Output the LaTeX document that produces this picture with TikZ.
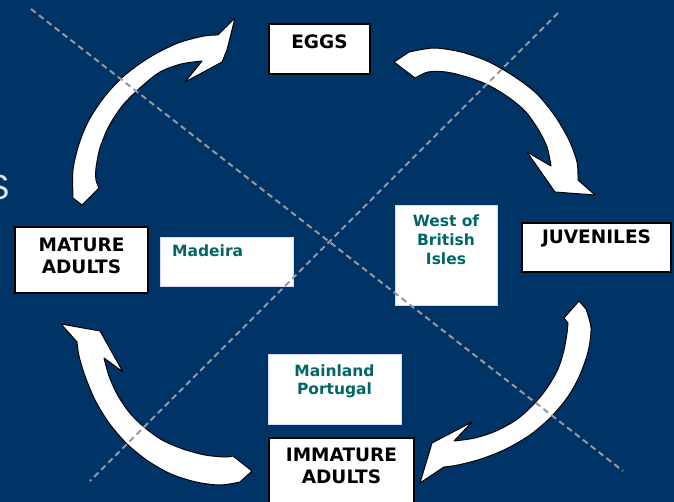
\documentclass[tikz,border=0pt]{standalone}
\usepackage{fontspec}
\setmainfont{DejaVu Sans}
\newfontfamily\slidefont{Liberation Sans}
\definecolor{navy}{RGB}{0,51,102}
\definecolor{tealtext}{RGB}{0,102,102}
\definecolor{dashgray}{RGB}{152,152,152}
\definecolor{slidegray}{RGB}{222,228,238}

\begin{document}
\begin{tikzpicture}[x=1pt,y=-1pt,
  stagebox/.style={draw=black,line width=2pt,fill=white,inner sep=0pt},
  stagetext/.style={font=\bfseries\fontsize{18.5}{22}\selectfont,align=center,text=black,inner sep=0pt},
  placebox/.style={fill=white,draw=white!85!blue,line width=0.5pt,inner sep=0pt},
  placetext/.style={font=\bfseries\fontsize{15.5}{19}\selectfont,align=center,text=tealtext,inner sep=0pt},
  cyclearrow/.style={fill=white,draw=black,line width=1pt,line join=round},
  divider/.style={draw=dashgray,line width=2pt,dash pattern=on 6pt off 4pt}]

\useasboundingbox (0,0) rectangle (674,502);
\fill[navy] (0,0) rectangle (674,502);

% clipped slide-title letter at the left edge
\node[font=\slidefont\fontsize{35}{35}\selectfont,text=slidegray,inner sep=0pt,anchor=base east] (title-s) at (9.6,200) {S};

% life stages
\node[stagebox,minimum width=101pt,minimum height=50pt] (eggs) at (319.5,49) {};
\node[stagetext] (eggs-t) at (319.5,42) {EGGS};

\node[stagebox,minimum width=149pt,minimum height=49pt] (juv) at (596.5,247.5) {};
\node[stagetext] (juv-t) at (596.5,238) {JUVENILES};

\node[stagebox,minimum width=133pt,minimum height=66pt] (mature) at (81.5,260) {};
\node[stagetext] (mature-t) at (81.5,256) {MATURE\\ADULTS};

\node[stagebox,minimum width=145pt,minimum height=80pt,anchor=north] (immature) at (341.5,437) {};
\node[stagetext] (immature-t) at (341.5,466) {IMMATURE\\ADULTS};

% places
\node[placebox,minimum width=133pt,minimum height=49pt] (madeira) at (226.5,261.5) {};
\node[placetext,anchor=west] (madeira-t) at (172,251) {Madeira};

\node[placebox,minimum width=102pt,minimum height=100pt] (west) at (446,255) {};
\node[placetext] (west-t) at (446,240) {West of\\British\\Isles};

\node[placebox,minimum width=133pt,minimum height=70pt] (mainland) at (334.5,389) {};
\node[placetext,font=\bfseries\fontsize{15.5}{18}\selectfont] (mainland-t) at (334.5,381) {Mainland\\Portugal};

% curved cycle arrows
% mature adults -> eggs
\filldraw[cyclearrow] (82,205) -- (73,198)
  -- plot[smooth] coordinates {(73,198) (73,170) (79,144) (89,120) (105,96) (125,75) (150,57) (178,43) (204,36) (218,35)}
  -- (235,18) -- (227,50) -- (222,62) -- (185,82)
  -- plot[smooth] coordinates {(202,61) (181,64) (160,72) (141,87) (123,105) (109,126) (100,148) (96,168) (96,180) (99,188)}
  -- cycle;
% eggs -> juveniles
\filldraw[cyclearrow] (394,62)
  -- plot[smooth] coordinates {(409,52) (434,48) (461,52) (487,61) (512,75) (536,93) (555,116) (569,140) (577,162) (578,180)}
  -- (595,195) -- (555,192) -- (527,152)
  -- plot[smooth] coordinates {(551,166) (547,147) (538,129) (525,111) (508,97) (488,85) (467,77) (446,72) (428,72) (415,78)}
  -- cycle;
% juveniles -> immature adults
\filldraw[cyclearrow] (579,301)
  -- plot[smooth] coordinates {(586,309) (591,328) (588,352) (579,377) (567,398) (550,418) (530,435) (506,449) (481,459) (458,465) (444,467)}
  -- (420,483) -- (432,443) -- (472,422)
  -- plot[smooth] coordinates {(454,441) (475,438) (496,431) (516,420) (533,405) (547,388) (558,369) (564,350) (567,333) (568,323)}
  -- (564,318) -- cycle;
% immature adults -> mature adults
\filldraw[cyclearrow] (252,471)
  -- plot[smooth] coordinates {(240,482) (220,485) (196,482) (171,474) (148,461) (127,444) (109,423) (95,400) (85,376) (79,356) (77,342)}
  -- (61,324) -- (100,331) -- (123,372)
  -- plot[smooth] coordinates {(104,358) (109,376) (117,394) (129,412) (144,427) (162,440) (183,449) (205,455) (225,457) (233,456)}
  -- cycle;

% dashed diagonals
\coordinate (d1a) at (31,9);
\coordinate (d1b) at (623,471);
\coordinate (d2a) at (558,13);
\coordinate (d2b) at (90,481);
\draw[divider] (d1a) -- (d1b);
\draw[divider] (d2a) -- (d2b);
\end{tikzpicture}
\end{document}
